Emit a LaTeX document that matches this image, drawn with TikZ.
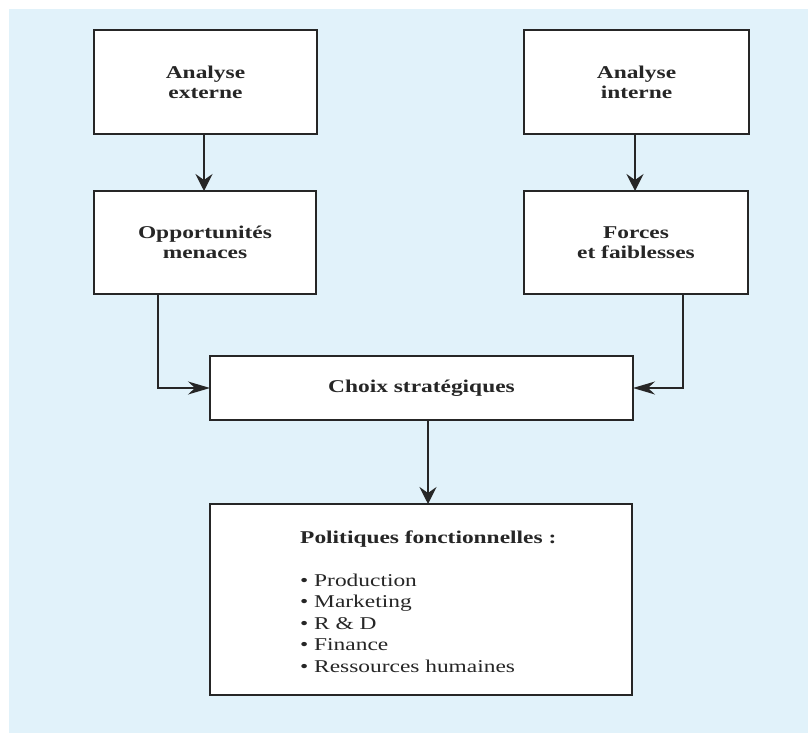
\documentclass[tikz,border=0pt]{standalone}
\usepackage{fontspec}
\setmainfont{Liberation Serif}[FakeStretch=1.3]
\usetikzlibrary{arrows.meta}

\definecolor{panel}{RGB}{225,242,250}
\definecolor{ink}{RGB}{38,38,38}

\tikzset{
  box/.style={draw=ink, line width=1.4pt, fill=white, rectangle,
    inner sep=0pt, outer sep=0pt, align=center, text=ink,
    font=\bfseries\fontsize{18}{20}\selectfont},
  link/.style={draw=ink, line width=1.4pt},
  vtip/.style={-{Stealth[length=17pt,width=17pt,inset=6pt]}},
  htip/.style={-{Stealth[length=22pt,width=13pt,inset=7pt]}},
  heading/.style={anchor=base west, inner sep=0pt, text=ink,
    font=\bfseries\fontsize{18}{20}\selectfont},
  listitem/.style={anchor=base west, inner sep=0pt, text=ink,
    font=\fontsize{18}{20}\selectfont},
}

\begin{document}
\begin{tikzpicture}[x=1pt, y=-1pt]
  \useasboundingbox (0,0) rectangle (808,733);
  \fill[panel] (9,9) rectangle (808,733);

  % analysis boxes
  \node[box, minimum width=223pt, minimum height=104pt] (ae) at (205.5,82) {Analyse\\externe};
  \node[box, minimum width=225pt, minimum height=104pt] (ai) at (636.5,82) {Analyse\\interne};
  \node[box, minimum width=222pt, minimum height=103pt] (op) at (205,242.5) {Opportunités\\menaces};
  \node[box, minimum width=224pt, minimum height=103pt] (fo) at (636,242.5) {Forces\\et faiblesses};

  % strategy and functional policies
  \node[box, minimum width=423pt, minimum height=64pt] (ch) at (421.5,388) {Choix stratégiques};
  \node[box, minimum width=422pt, minimum height=191pt] (po) at (421,599.5) {};

  \node[heading] (pt) at (300,543) {Politiques fonctionnelles :};
  \foreach \t [count=\i] in {Production, Marketing, R \& D, Finance, Ressources humaines}
    \node[listitem] (it\i) at (300,{586+21.5*(\i-1)}) {• \t};

  % connectors
  \draw[link, vtip] ([xshift=-1.5pt]ae.south) -- ([xshift=-1.5pt]ae.south |- op.north);
  \draw[link, vtip] ([xshift=-1.5pt]ai.south) -- ([xshift=-1.5pt]ai.south |- fo.north);
  \draw[link, htip] ([xshift=-47pt]op.south) |- (ch.west);
  \draw[link, htip] ([xshift=47pt]fo.south) |- (ch.east);
  \draw[link, vtip] ([xshift=6.5pt]ch.south) -- ([xshift=6.5pt]ch.south |- po.north);
\end{tikzpicture}
\end{document}
